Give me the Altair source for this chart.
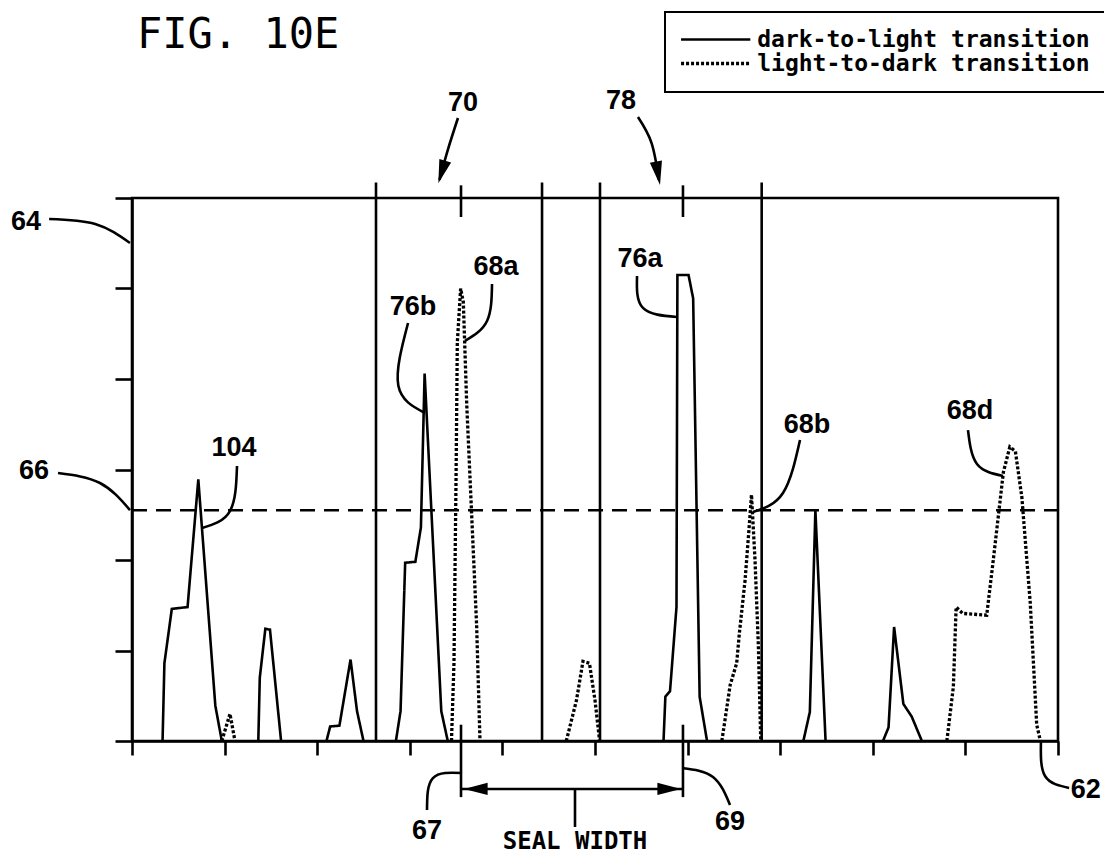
import altair as alt
import pandas as pd

# ---------------- data ----------------
SERIES = ["dark-to-light transition", "light-to-dark transition"]

# solid (dark-to-light) peaks
solid_x = [
    [0.33, 0.35, 0.43, 0.60, 0.716, 0.90, 0.97],
    [1.364, 1.38, 1.44, 1.49, 1.61],
    [2.10, 2.14, 2.24, 2.36, 2.43, 2.50],
    [2.85, 2.90, 2.95, 3.06, 3.12, 3.16, 3.34, 3.41],
    [5.74, 5.76, 5.81, 5.88, 5.89, 6.01, 6.06, 6.13, 6.21],
    [7.25, 7.32, 7.38, 7.49],
    [8.11, 8.17, 8.23, 8.33, 8.42, 8.53],
]
solid_y = [
    [0, 0.86, 1.46, 1.48, 2.89, 0.39, 0],
    [0, 0.70, 1.24, 1.23, 0],
    [0, 0.16, 0.17, 0.90, 0.33, 0],
    [0, 0.33, 1.97, 1.98, 2.36, 4.06, 0.33, 0],
    [0, 0.49, 0.55, 1.48, 5.15, 5.15, 4.89, 0.49, 0],
    [0, 0.32, 2.55, 0],
    [0, 0.15, 1.26, 0.41, 0.27, 0],
]
# dotted (light-to-dark) peaks
dotted_x = [
    [0.97, 1.058, 1.112],
    [3.45, 3.477, 3.50, 3.513, 3.549, 3.578, 3.614, 3.668, 3.722, 3.758],
    [4.69, 4.80, 4.87, 4.94, 5.00, 5.05],
    [6.37, 6.46, 6.53, 6.56, 6.62, 6.66, 6.69, 6.728, 6.764, 6.79],
    [8.80, 8.87, 8.90, 8.97, 9.23, 9.30, 9.41, 9.48, 9.54, 9.61, 9.70, 9.77, 9.81],
]
dotted_y = [
    [0, 0.30, 0],
    [0, 0.86, 2.96, 4.4, 5.0, 4.85, 3.74, 2.5, 1.27, 0],
    [0, 0.45, 0.88, 0.86, 0.45, 0],
    [0, 0.62, 0.86, 1.2, 1.77, 2.3, 2.72, 2.0, 1.06, 0],
    [0, 0.60, 1.48, 1.41, 1.39, 1.99, 2.97, 3.25, 3.2, 2.69, 1.53, 0.18, 0],
]

threshold = 2.55                        # dashed line 66
window_x = [2.635, 4.428, 5.054, 6.80]  # vertical window lines
window_top = 6.17
edge_x = [3.553, 5.95]                  # edges 67 and 69
seal_y = -0.53
seal_mid_x = 4.784

# reference labels
label_text = ["64", "66", "104", "76b", "68a", "76a", "68b", "68d", "62", "70", "78", "67", "69"]
label_x = [-1.145, -1.058, 1.101, 3.035, 3.931, 5.486, 7.289, 9.05, 10.30, 3.575, 5.281, 3.186, 6.458]
label_y = [5.735, 2.983, 3.238, 4.796, 5.238, 5.326, 3.492, 3.646, -0.541, 7.05, 7.072, -0.994, -0.895]

# leader curves (start, middle, end) for each label
leader_x = [
    [-0.895, -0.397, -0.022], [-0.799, -0.346, -0.022], [1.134, 1.058, 0.756],
    [2.981, 2.876, 3.164], [3.888, 3.834, 3.596], [5.454, 5.518, 5.886],
    [7.214, 7.03, 6.706], [9.028, 9.125, 9.406], [9.816, 9.86, 10.12],
    [3.52, 3.41, 3.32], [5.464, 5.61, 5.69], [3.186, 3.25, 3.564], [5.94, 6.274, 6.458],
]
leader_y = [
    [5.768, 5.713, 5.503], [2.961, 2.851, 2.552], [3.039, 2.541, 2.354],
    [4.619, 3.927, 3.624], [5.05, 4.641, 4.42], [5.138, 4.785, 4.685],
    [3.326, 2.74, 2.53], [3.436, 3.061, 2.928], [0.0, -0.387, -0.519],
    [6.884, 6.53, 6.20], [6.895, 6.61, 6.20], [-0.762, -0.41, -0.354], [-0.298, -0.398, -0.707],
]
# arrow heads: tip position and direction (degrees)
head_x = [3.308, 5.702]
head_y = [6.162, 6.144]
head_dir = [107, 80]
seal_head_x = [3.585, 5.929]
seal_head_dir = [180, 0]

# ---------------- tables ----------------
rows = []
g = 0
for xs_, ys_ in zip(solid_x, solid_y):
    for i, (a, b) in enumerate(zip(xs_, ys_)):
        rows.append({"series": SERIES[0], "grp": g, "order": i, "x": a, "y": b})
    g += 1
for xs_, ys_ in zip(dotted_x, dotted_y):
    for i, (a, b) in enumerate(zip(xs_, ys_)):
        rows.append({"series": SERIES[1], "grp": g, "order": i, "x": a, "y": b})
    g += 1
df_curves = pd.DataFrame(rows)

lrows = []
for k, (xs_, ys_) in enumerate(zip(leader_x, leader_y)):
    for i, (a, b) in enumerate(zip(xs_, ys_)):
        lrows.append({"id": k, "ord": i, "x": a, "y": b})
df_leaders = pd.DataFrame(lrows)

df_labels = pd.DataFrame({"t": label_text, "x": label_x, "y": label_y})

vrows = [{"x": v, "y": 0, "y2": window_top} for v in window_x]
for e in edge_x:
    vrows.append({"x": e, "y": 5.79, "y2": 6.14})
    vrows.append({"x": e, "y": 0.18, "y2": -0.62})
vrows.append({"x": seal_mid_x, "y": seal_y, "y2": -0.95})
df_vrules = pd.DataFrame(vrows)

df_seal = pd.DataFrame({"x": [edge_x[0]], "x2": [edge_x[1]], "y": [seal_y]})
df_thr = pd.DataFrame({"x": [0], "x2": [10], "y": [threshold]})
df_heads = pd.DataFrame({"x": head_x + seal_head_x,
                         "y": head_y + [seal_y, seal_y],
                         "ang": head_dir + seal_head_dir})
df_seal_text = pd.DataFrame({"t": ["SEAL WIDTH"], "x": [seal_mid_x], "y": [-1.112]})
df_fig = pd.DataFrame({"t": ["FIG. 10E"], "x": [0.054], "y": [7.657]})

# ---------------- chart ----------------
LW = 2.6
xs = alt.Scale(domain=[0, 10], nice=False, zero=False)
ys = alt.Scale(domain=[0, 6], nice=False, zero=False)
AX = alt.Axis(values=list(range(11)), labels=False, title=None, tickSize=14, tickWidth=LW,
              domainWidth=LW, grid=False, domainColor="black", tickColor="black")
AY = alt.Axis(values=list(range(7)), labels=False, title=None, tickSize=17, tickWidth=LW,
              domainWidth=LW, grid=False, domainColor="black", tickColor="black")
X = lambda f="x": alt.X(f"{f}:Q", scale=xs, axis=AX)
Y = lambda f="y": alt.Y(f"{f}:Q", scale=ys, axis=AY)

curves = alt.Chart(df_curves).mark_line(color="black").encode(
    x=X(), y=Y(),
    strokeDash=alt.StrokeDash("series:N",
                              scale=alt.Scale(domain=SERIES, range=[[1, 0], [3, 2]]),
                              legend=alt.Legend(title=None, orient="none", legendX=533, legendY=-186,
                                                symbolType="M-4,0L4,0", symbolSize=300,
                                                symbolOffset=23.2,
                                                symbolStrokeWidth=2.6, symbolStrokeColor="black",
                                                labelFont="DejaVu Sans Mono", labelFontSize=23,
                                                labelFontWeight="bold", labelColor="black",
                                                labelLimit=800, labelOffset=30, padding=16,
                                                rowPadding=-2, strokeColor="black", fillColor="white")),
    strokeWidth=alt.StrokeWidth("series:N", scale=alt.Scale(domain=SERIES, range=[2.6, 3.3]),
                                legend=None),
    detail="grp:N",
    order="order:Q",
)

thr = alt.Chart(df_thr).mark_rule(color="black", strokeWidth=LW, strokeDash=[15, 9]).encode(
    x=X(), x2="x2:Q", y=Y())
vr = alt.Chart(df_vrules).mark_rule(color="black", strokeWidth=LW).encode(
    x=X(), y=Y(), y2="y2:Q")
seal = alt.Chart(df_seal).mark_rule(color="black", strokeWidth=LW).encode(
    x=X(), x2="x2:Q", y=Y())
leaders = alt.Chart(df_leaders).mark_line(color="black", strokeWidth=LW, interpolate="natural").encode(
    x=X(), y=Y(), detail="id:N", order="ord:Q")
heads = alt.Chart(df_heads).mark_point(shape="M0,0L-2,-0.52L-2,0.52Z", filled=True, color="black",
                                       opacity=1, size=560, strokeWidth=0).encode(
    x=X(), y=Y(), angle=alt.Angle("ang:Q", scale=None))
labels = alt.Chart(df_labels).mark_text(
    font="Liberation Sans", fontSize=27,
    fontWeight="bold", color="black", baseline="middle", align="center").encode(
    x=X(), y=Y(), text="t:N")
seal_text = alt.Chart(df_seal_text).mark_text(
    font="DejaVu Sans Mono", fontSize=24, fontWeight="bold", color="black",
    baseline="middle", align="center").encode(x=X(), y=Y(), text="t:N")
fig = alt.Chart(df_fig).mark_text(
    font="DejaVu Sans Mono", fontSize=42, fontWeight="normal", color="black",
    baseline="alphabetic", align="left").encode(x=X(), y=Y(), text="t:N")

chart = alt.layer(curves, thr, vr, seal, leaders, heads, labels, seal_text, fig).properties(
    width=926, height=543,
    padding={"left": 124, "top": 190, "right": 46, "bottom": 115},
    autosize=alt.AutoSizeParams(type="none"),
    background="white",
).configure_view(stroke="black", strokeWidth=LW).configure_legend(strokeWidth=2)

chart.save("out.html", embed_options={"renderer": "svg", "actions": False})
